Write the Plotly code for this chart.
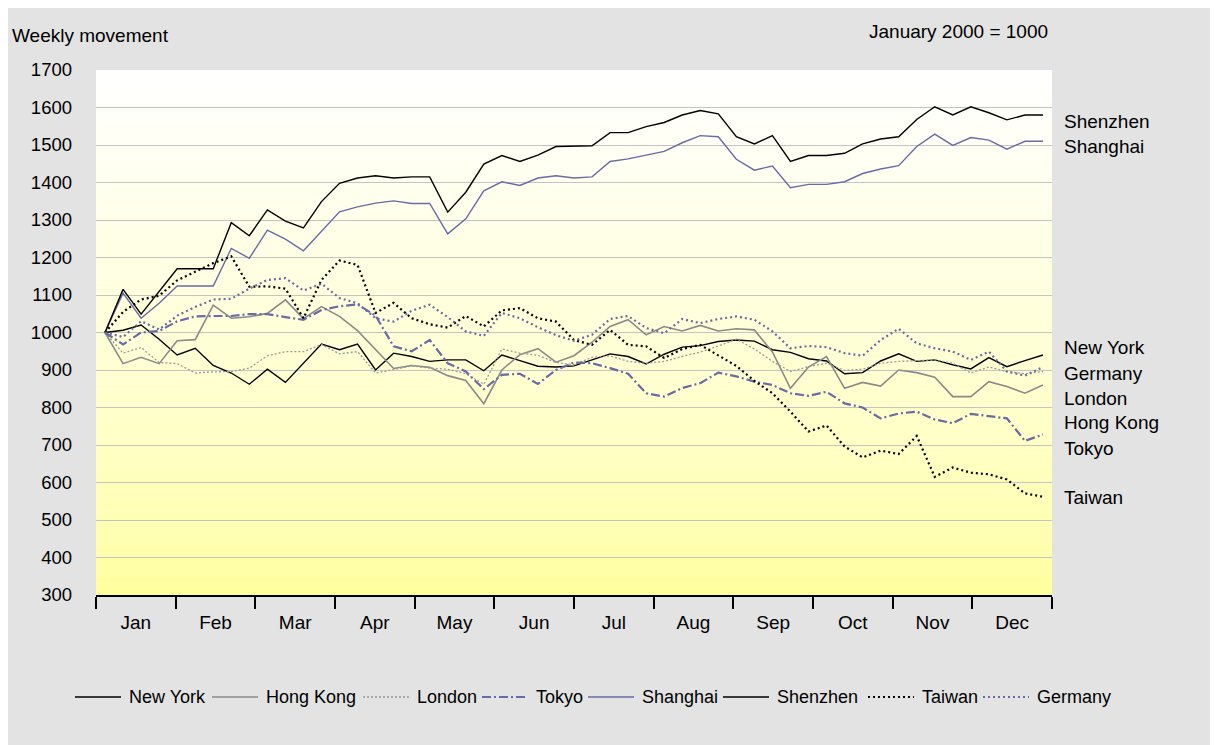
import plotly.graph_objects as go

# ---------------- data ----------------
months = ["Jan", "Feb", "Mar", "Apr", "May", "Jun", "Jul", "Aug", "Sep", "Oct", "Nov", "Dec"]
weeks = list(range(53))

new_york = [1000, 1006, 1020, 982, 940, 958, 912, 892, 862, 902, 867, 918, 969, 954, 969, 900, 945, 936,
            923, 927, 927, 898, 940, 925, 910, 908, 911, 927, 943, 936, 916, 942, 961, 965, 976,
            980, 977, 954, 947, 930, 924, 890, 893, 924, 943, 923, 927, 914, 903, 933, 909, 925, 940]
hong_kong = [1000, 917, 934, 917, 978, 981, 1073, 1038, 1042, 1051, 1087, 1037, 1069, 1043, 1005, 955, 904, 912,
             907, 885, 872, 810, 900, 941, 957, 921, 938, 974, 1016, 1034, 994, 1016, 1004, 1019, 1004,
             1010, 1007, 948, 851, 908, 936, 851, 867, 857, 900, 893, 881, 829, 829, 869, 856, 838, 860]
london = [1000, 945, 960, 920, 917, 892, 895, 896, 905, 938, 949, 949, 968, 943, 949, 892, 901, 911,
          905, 902, 890, 862, 956, 945, 939, 920, 914, 934, 938, 923, 918, 923, 936, 948, 964,
          982, 956, 923, 896, 909, 918, 899, 902, 918, 923, 925, 927, 918, 892, 908, 896, 890, 896]
tokyo = [1000, 968, 1000, 1004, 1030, 1043, 1044, 1044, 1049, 1049, 1041, 1034, 1060, 1070, 1075, 1045, 963, 950,
         980, 918, 896, 849, 887, 890, 863, 900, 920, 918, 905, 890, 838, 829, 852, 865, 893,
         883, 869, 860, 838, 831, 842, 811, 800, 771, 784, 789, 768, 758, 783, 777, 771, 711, 728]
shanghai = [1000, 1105, 1038, 1078, 1124, 1124, 1124, 1224, 1198, 1273, 1249, 1218, 1271, 1322, 1335, 1345, 1351, 1344,
            1344, 1263, 1303, 1378, 1402, 1392, 1412, 1418, 1412, 1415, 1456, 1463, 1473, 1483, 1506, 1525, 1522,
            1462, 1433, 1444, 1386, 1395, 1395, 1402, 1424, 1436, 1445, 1496, 1529, 1499, 1520, 1513, 1489, 1510, 1510]
shenzhen = [1000, 1115, 1049, 1109, 1170, 1170, 1170, 1293, 1258, 1327, 1297, 1279, 1349, 1398, 1412, 1418, 1412, 1415,
            1415, 1321, 1374, 1449, 1472, 1456, 1473, 1496, 1498, 1498, 1533, 1533, 1549, 1560, 1580, 1592, 1583,
            1522, 1503, 1525, 1456, 1472, 1472, 1478, 1503, 1516, 1522, 1568, 1602, 1580, 1602, 1586, 1567, 1580, 1580]
taiwan = [1000, 1055, 1088, 1098, 1139, 1163, 1185, 1203, 1122, 1123, 1117, 1038, 1140, 1192, 1180, 1052, 1079, 1038,
          1022, 1013, 1044, 1016, 1059, 1065, 1038, 1029, 980, 967, 1007, 967, 963, 932, 956, 967, 940,
          911, 871, 838, 789, 736, 752, 696, 667, 685, 676, 724, 615, 640, 626, 622, 608, 571, 562]
germany = [1000, 988, 1030, 1008, 1045, 1068, 1088, 1090, 1117, 1140, 1145, 1112, 1130, 1092, 1078, 1038, 1029, 1058,
           1074, 1041, 1003, 991, 1052, 1038, 1014, 993, 978, 994, 1036, 1044, 1012, 998, 1036, 1025, 1036,
           1043, 1034, 1003, 958, 964, 961, 945, 938, 980, 1010, 971, 958, 949, 927, 949, 896, 885, 908]

series_names = ["New York", "Hong Kong", "London", "Tokyo", "Shanghai", "Shenzhen", "Taiwan", "Germany"]
series_values = [new_york, hong_kong, london, tokyo, shanghai, shenzhen, taiwan, germany]
end_labels = ["Shenzhen", "Shanghai", "New York", "Germany", "London", "Hong Kong", "Tokyo", "Taiwan"]

# ---------------- styles / layout positions ----------------
BLUE = "#6a6aa6"
styles = {
    "New York": dict(color="#000000", width=1.4, dash="solid"),
    "Hong Kong": dict(color="#8a8a8a", width=1.6, dash="solid"),
    "London": dict(color="#9a9a9a", width=1.3, dash="2px,2px"),
    "Tokyo": dict(color=BLUE, width=2.2, dash="9px,3px,2px,3px"),
    "Shanghai": dict(color=BLUE, width=1.4, dash="solid"),
    "Shenzhen": dict(color="#000000", width=1.4, dash="solid"),
    "Taiwan": dict(color="#000000", width=2.2, dash="2px,3px"),
    "Germany": dict(color=BLUE, width=2.2, dash="2px,3px"),
}
label_y = {"Shenzhen": 1564, "Shanghai": 1495, "New York": 959, "Germany": 892,
           "London": 825, "Hong Kong": 759, "Tokyo": 692, "Taiwan": 559}
# legend entry start positions (pixels in the page)
legend_px = [75, 212, 363, 482, 588, 723, 868, 983]

FONT = "Liberation Sans, Arial, sans-serif"
PLOT_L, PLOT_W, PLOT_B, PLOT_H = 96, 956, 595, 525


def px_to_paper_x(px):
    return (px - PLOT_L) / PLOT_W


def py_to_paper_y(py):
    return (PLOT_B - py) / PLOT_H


n = len(weeks)
x_lo, x_hi = -0.5, n - 0.5
mw = (x_hi - x_lo) / len(months)
boundaries = [x_lo + k * mw for k in range(len(months) + 1)]
centers = [x_lo + (k + 0.5) * mw for k in range(len(months))]

fig = go.Figure()
for name, vals in zip(series_names, series_values):
    st = styles[name]
    fig.add_trace(go.Scatter(x=weeks, y=vals, mode="lines", name=name, showlegend=False,
                             line=dict(color=st["color"], width=st["width"], dash=st["dash"])))

# gradient plot background (white at top -> yellow at bottom)
shapes = []
nb = 140
ylo, yhi = 300, 1700
step = (yhi - ylo) / nb
for i in range(nb):
    y0 = ylo + i * step
    t = (y0 + step / 2 - ylo) / (yhi - ylo)
    b = int(round(153 + 102 * (t ** 0.7)))
    shapes.append(dict(type="rect", xref="paper", yref="y", x0=0, x1=1, y0=y0, y1=y0 + step * 1.05,
                       fillcolor=f"rgb(255,255,{b})", line=dict(width=0), layer="below"))

annotations = [
    dict(text="Weekly movement", xref="paper", yref="paper", x=px_to_paper_x(10), y=py_to_paper_y(35),
         xanchor="left", yanchor="middle", showarrow=False, font=dict(size=19, color="black", family=FONT)),
    dict(text="January 2000 = 1000", xref="paper", yref="paper", x=px_to_paper_x(1050), y=py_to_paper_y(32),
         xanchor="right", yanchor="middle", showarrow=False, font=dict(size=19, color="black", family=FONT)),
]
for lab in end_labels:
    annotations.append(dict(text=lab, xref="paper", yref="y", x=px_to_paper_x(1062), y=label_y[lab],
                            xanchor="left", yanchor="middle", showarrow=False,
                            font=dict(size=19, color="black", family=FONT)))

# legend (line sample + text), one row like the original
leg_y = py_to_paper_y(697)
for name, x0 in zip(series_names, legend_px):
    st = styles[name]
    shapes.append(dict(type="line", xref="paper", yref="paper", x0=px_to_paper_x(x0),
                       x1=px_to_paper_x(x0 + 46), y0=leg_y, y1=leg_y,
                       line=dict(color=st["color"], width=st["width"], dash=st["dash"])))
    annotations.append(dict(text=name, xref="paper", yref="paper", x=px_to_paper_x(x0 + 52), y=leg_y,
                            xanchor="left", yanchor="middle", showarrow=False,
                            font=dict(size=18, color="black", family=FONT)))

fig.update_layout(
    width=1218, height=745,
    margin=dict(l=88, r=174, t=62, b=158),
    paper_bgcolor="#e3e3e3",
    plot_bgcolor="#ffffff",
    font=dict(family=FONT, size=18, color="black"),
    shapes=shapes,
    annotations=annotations,
    showlegend=False,
    xaxis=dict(range=[x_lo, x_hi], tickmode="array", tickvals=centers, ticktext=months,
               ticks="outside", ticklen=9, tickcolor="rgba(0,0,0,0)", showgrid=False,
               zeroline=False, showline=True, linecolor="black", linewidth=2,
               tickfont=dict(size=19, family=FONT),
               minor=dict(tickmode="array", tickvals=boundaries, ticks="outside", ticklen=12,
                          tickwidth=2, tickcolor="black", showgrid=False)),
    yaxis=dict(range=[300, 1700], dtick=100, tick0=300, showgrid=True, gridcolor="#c4c4c4", gridwidth=1,
               zeroline=False, showline=False, ticks="", ticklabelstandoff=23,
               tickfont=dict(size=18.5, family=FONT)),
)

fig.write_html("out.html")
